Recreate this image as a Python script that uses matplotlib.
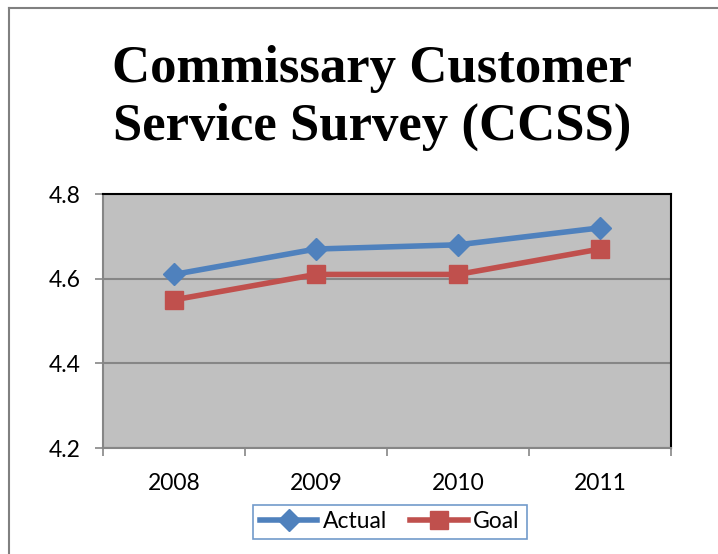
import matplotlib
matplotlib.use("Agg")
import matplotlib.pyplot as plt
from matplotlib.lines import Line2D

years = ["2008", "2009", "2010", "2011"]
actual = [4.61, 4.67, 4.68, 4.72]
goal = [4.55, 4.61, 4.61, 4.67]
y_ticks = [4.2, 4.4, 4.6, 4.8]

W, H = 718, 554
fig = plt.figure(figsize=(W / 100, H / 100), dpi=100)
fig.patch.set_facecolor("white")

# outer chart frame
fig.add_artist(Line2D([9 / W, 9 / W], [0, 1 - 8 / H], transform=fig.transFigure,
                      color="#808080", lw=1.5))
fig.add_artist(Line2D([9 / W, 1], [1 - 8 / H, 1 - 8 / H], transform=fig.transFigure,
                      color="#808080", lw=1.5))

left, right, top, bottom = 103, 671, 194, 448
ax = fig.add_axes([left / W, 1 - bottom / H, (right - left) / W, (bottom - top) / H])
ax.set_facecolor("#C0C0C0")

x = list(range(len(years)))
ax.plot(x, actual, color="#4F81BD", lw=4, marker="D", ms=11, label="Actual", zorder=3)
ax.plot(x, goal, color="#C0504D", lw=4, marker="s", ms=13, label="Goal", zorder=3)

ax.set_xlim(-0.5, len(years) - 0.5)
ax.set_ylim(4.2, 4.8)
ax.set_yticks(y_ticks)
ax.set_yticklabels([f"{v:.1f}" for v in y_ticks])
ax.set_xticks(x)
ax.set_xticklabels(years)
ax.set_xticks([i - 0.5 for i in range(len(years) + 1)], minor=True)
ax.tick_params(axis="x", which="major", length=0, pad=18, labelsize=16.5)
ax.tick_params(axis="x", which="minor", length=6, color="#868686", width=1.2)
ax.tick_params(axis="y", length=6, color="#868686", width=1.2, pad=10, labelsize=16.5)
for lab in ax.get_xticklabels() + ax.get_yticklabels():
    lab.set_fontfamily("Lato")

ax.grid(axis="y", color="#868686", lw=1.5)
ax.set_axisbelow(True)
ax.spines["top"].set_color("black")
ax.spines["right"].set_color("black")
ax.spines["top"].set_linewidth(1.5)
ax.spines["right"].set_linewidth(1.5)
ax.spines["left"].set_color("#868686")
ax.spines["bottom"].set_color("#868686")
ax.spines["left"].set_linewidth(1.5)
ax.spines["bottom"].set_linewidth(1.5)

fig.text(372 / W, 1 - 98 / H, "Commissary Customer\nService Survey (CCSS)",
         ha="center", va="center", fontfamily="Liberation Serif", fontweight="bold",
         fontsize=38, linespacing=1.28)

leg = fig.legend(loc="center", bbox_to_anchor=(390 / W, 1 - 522 / H), ncol=2,
                 frameon=True, fancybox=False, prop={"family": "Lato", "size": 16.5},
                 handlelength=2.5, handletextpad=0.25, columnspacing=1.0,
                 borderpad=0.3, borderaxespad=0)
leg.get_frame().set_edgecolor("#4F81BD")
leg.get_frame().set_linewidth(1.2)

fig.savefig("out.png", dpi=100, facecolor="white")
